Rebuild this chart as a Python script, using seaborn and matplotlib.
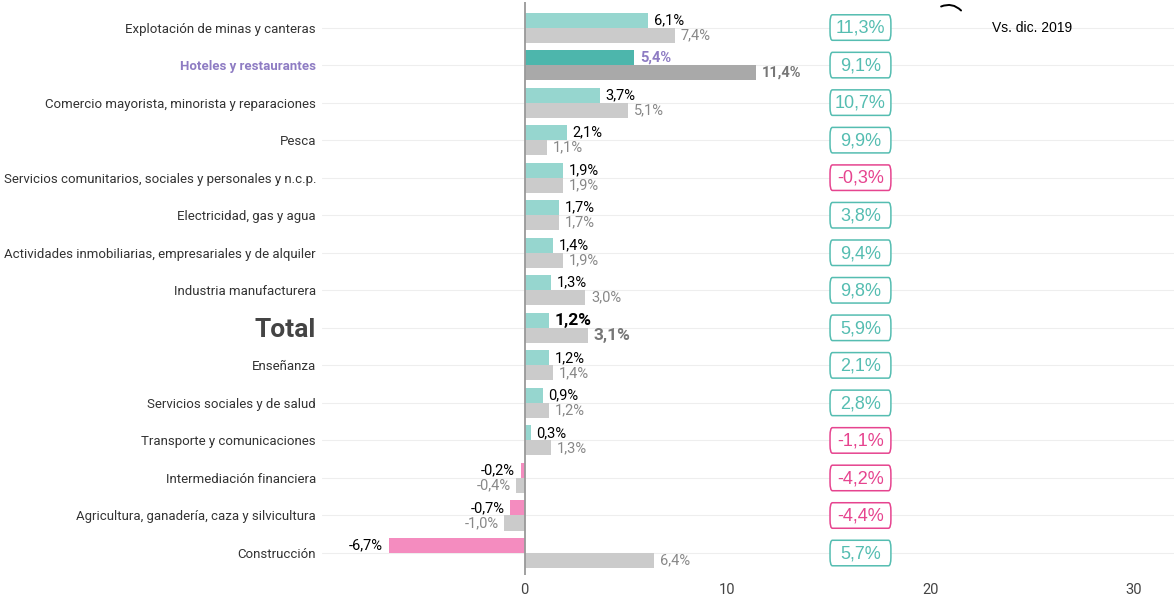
import numpy as np
import pandas as pd
import matplotlib.pyplot as plt
import seaborn as sns
from matplotlib.patches import FancyBboxPatch

sectores = [
    "Explotación de minas y canteras",
    "Hoteles y restaurantes",
    "Comercio mayorista, minorista y reparaciones",
    "Pesca",
    "Servicios comunitarios, sociales y personales y n.c.p.",
    "Electricidad, gas y agua",
    "Actividades inmobiliarias, empresariales y de alquiler",
    "Industria manufacturera",
    "Total",
    "Enseñanza",
    "Servicios sociales y de salud",
    "Transporte y comunicaciones",
    "Intermediación financiera",
    "Agricultura, ganadería, caza y silvicultura",
    "Construcción",
]
var_actual = [6.1, 5.4, 3.7, 2.1, 1.9, 1.7, 1.4, 1.3, 1.2, 1.2, 0.9, 0.3, -0.2, -0.7, -6.7]
var_previa = [7.4, 11.4, 5.1, 1.1, 1.9, 1.7, 1.9, 3.0, 3.1, 1.4, 1.2, 1.3, -0.4, -1.0, 6.4]
vs_2019 = [11.3, 9.1, 10.7, 9.9, -0.3, 3.8, 9.4, 9.8, 5.9, 2.1, 2.8, -1.1, -4.2, -4.4, 5.7]

TEAL_L = "#96d6cf"
TEAL_D = "#4db6ac"
GRAY_L = "#cbcbcb"
GRAY_D = "#a9a9a9"
PINK = "#f48cbf"
BOX_TEAL = "#55bdb1"
BOX_PINK = "#e6448f"
PURPLE = "#8e7cc3"


def fmt(v):
    return f"{v:.1f}".replace(".", ",") + "%"


df = pd.DataFrame({
    "sector": sectores * 2,
    "valor": var_actual + var_previa,
    "serie": ["actual"] * len(sectores) + ["previa"] * len(sectores),
})

sns.set_theme(style="white")
plt.rcParams["font.family"] = ["Roboto", "DejaVu Sans"]

fig = plt.figure(figsize=(11.74, 6), dpi=100)
ax = fig.add_axes([0.274, 0.042, 0.726, 0.954])

sns.barplot(data=df, y="sector", x="valor", hue="serie", orient="h",
            order=sectores, hue_order=["actual", "previa"], width=0.8,
            palette=[TEAL_L, GRAY_L], legend=False, ax=ax, saturation=1)

bars_a = ax.containers[0]
bars_p = ax.containers[1]

for i, (ba, bp) in enumerate(zip(bars_a, bars_p)):
    va, vp = var_actual[i], var_previa[i]
    name = sectores[i]
    ca = PINK if va < 0 else (TEAL_D if name == "Hoteles y restaurantes" else TEAL_L)
    cp = GRAY_D if name == "Hoteles y restaurantes" else GRAY_L
    ba.set_facecolor(ca)
    bp.set_facecolor(cp)
    ba.set_edgecolor("none")
    bp.set_edgecolor("none")

    # etiquetas de valores
    bold = name in ("Hoteles y restaurantes", "Total")
    size = 12.5 if name == "Total" else 10.5
    col_a = PURPLE if name == "Hoteles y restaurantes" else "black"
    col_p = "#777777" if bold else "#888888"
    for bar, v, col in ((ba, va, col_a), (bp, vp, col_p)):
        yc = bar.get_y() + bar.get_height() / 2
        off = 4 if v >= 0 else -4
        ax.annotate(fmt(v), (v, yc), xytext=(off, 0), textcoords="offset points",
                    ha="left" if v >= 0 else "right", va="center",
                    fontsize=size, color=col,
                    fontweight="bold" if bold else "normal")

    # cajas vs dic. 2019
    bc = BOX_PINK if vs_2019[i] < 0 else BOX_TEAL
    ax.add_patch(FancyBboxPatch((16.55 - 1.5, i - 0.34), 3.0, 0.68,
                                boxstyle="round,pad=0,rounding_size=0.12",
                                fc="white", ec=bc, lw=1.1,
                                mutation_aspect=1 / 20.3 * 37.5, zorder=3))
    ax.text(16.55, i + 0.02, fmt(vs_2019[i]), ha="center", va="center",
            fontsize=13, color=bc, family="Liberation Sans", zorder=4)

ax.set_xlim(-10, 32)
ax.set_ylim(14.58, -0.67)
ax.set_xticks([0, 10, 20, 30])
ax.set_xlabel("")
ax.set_ylabel("")
ax.tick_params(axis="x", length=0, labelsize=10.5, labelcolor="#444444", pad=6)
ax.tick_params(axis="y", length=0, pad=4)

for i in range(len(sectores)):
    ax.axhline(i, color="#eeeeee", lw=0.8, zorder=0)
ax.axvline(0, color="#999999", lw=1.3, zorder=2)

for lab in ax.get_yticklabels():
    t = lab.get_text()
    lab.set_color("#333333")
    lab.set_fontsize(9.5)
    if t == "Hoteles y restaurantes":
        lab.set_color(PURPLE)
        lab.set_fontweight("bold")
    elif t == "Total":
        lab.set_fontsize(19)
        lab.set_fontweight("bold")
        lab.set_color("#444444")

sns.despine(ax=ax, left=True, bottom=True)

ax.text(25, 0.0, "Vs. dic. 2019", ha="center", va="center", fontsize=10,
        color="black", family="Liberation Sans")
ax.annotate("", xy=(21.6, -0.4), xytext=(20.4, -0.53),
            arrowprops=dict(arrowstyle="-", color="black", lw=1.4,
                            connectionstyle="arc3,rad=-0.4"))

fig.savefig("out.png", dpi=100)
